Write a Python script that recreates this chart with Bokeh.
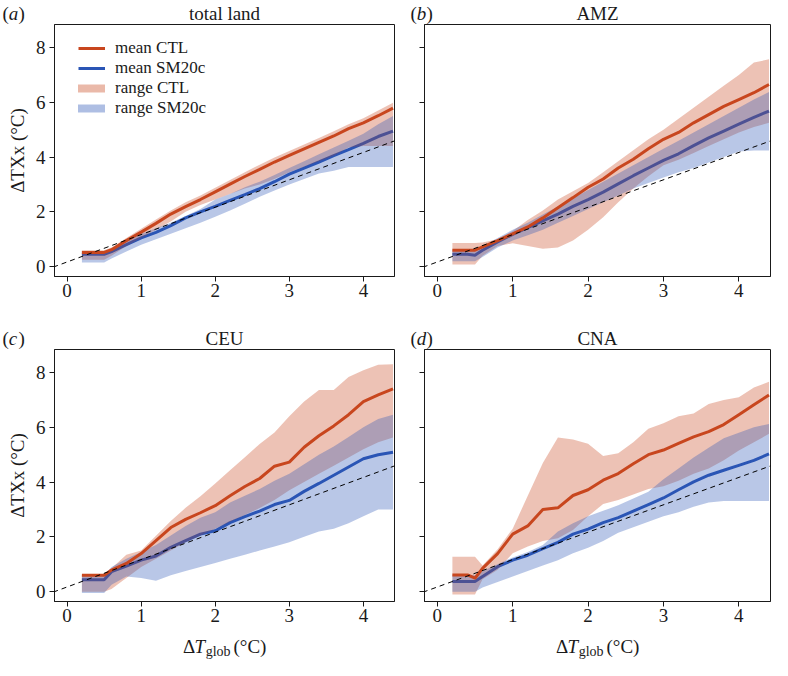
import math
from bokeh.plotting import figure
from bokeh.models import (Slope, Legend, LegendItem, Range1d, FixedTicker,
                          ColumnDataSource)
from bokeh.core.properties import value
from bokeh.layouts import column, row
from bokeh.embed import file_html
from bokeh.resources import INLINE

FONT = "Liberation Serif"
RED = "#c8461e"
BLUE = "#2a55b5"
FILL_ALPHA = 0.33
INK = "#1a1a1a"

# ---------------- data ----------------
X = [0.2, 0.4, 0.5, 0.6, 0.8, 1.0, 1.2, 1.4, 1.6, 1.8, 2.0, 2.2, 2.4, 2.6, 2.8,
     3.0, 3.2, 3.4, 3.6, 3.8, 4.0, 4.2, 4.4]

X_TICKS = [0, 1, 2, 3, 4]
Y_TICKS = [0, 2, 4, 6, 8]
X_RANGE = (-0.17, 4.42)
Y_RANGE = (-0.36, 8.84)

# reference dashed line (same in every panel)
DASH_SLOPE = 1.0
DASH_INTERCEPT = 0.17

# (a) total land
ctl_mean_a = [0.52, 0.52, 0.52, 0.62, 0.95, 1.26, 1.58, 1.92, 2.19, 2.45, 2.73, 3.01, 3.29, 3.55, 3.82, 4.06, 4.30, 4.54, 4.77, 5.04, 5.25, 5.51, 5.79]
sm_mean_a = [0.45, 0.45, 0.45, 0.55, 0.80, 1.05, 1.25, 1.50, 1.78, 2.00, 2.20, 2.42, 2.63, 2.85, 3.10, 3.38, 3.60, 3.82, 4.05, 4.27, 4.50, 4.75, 4.95]
ctl_lo_a = [0.25, 0.25, 0.25, 0.40, 0.75, 1.05, 1.35, 1.65, 2.00, 2.25, 2.45, 2.65, 2.85, 3.00, 3.20, 3.45, 3.65, 3.85, 4.05, 4.35, 4.40, 4.40, 4.40]
ctl_hi_a = [0.60, 0.60, 0.60, 0.70, 1.05, 1.38, 1.72, 2.05, 2.35, 2.60, 2.88, 3.16, 3.45, 3.72, 3.98, 4.22, 4.46, 4.70, 4.94, 5.20, 5.42, 5.70, 5.98]
sm_lo_a = [0.15, 0.15, 0.15, 0.30, 0.55, 0.80, 1.00, 1.20, 1.40, 1.60, 1.82, 2.05, 2.30, 2.55, 2.78, 3.00, 3.20, 3.40, 3.50, 3.64, 3.64, 3.64, 3.64]
sm_hi_a = [0.55, 0.55, 0.55, 0.65, 0.95, 1.20, 1.40, 1.60, 1.85, 2.10, 2.45, 2.65, 2.90, 3.10, 3.35, 3.60, 3.85, 4.10, 4.35, 4.60, 4.85, 5.20, 5.50]

# (b) AMZ
ctl_mean_b = [0.60, 0.60, 0.60, 0.72, 0.95, 1.20, 1.45, 1.78, 2.15, 2.52, 2.90, 3.20, 3.60, 3.92, 4.30, 4.65, 4.90, 5.25, 5.55, 5.85, 6.10, 6.35, 6.65]
sm_mean_b = [0.45, 0.45, 0.42, 0.60, 0.90, 1.18, 1.42, 1.67, 1.92, 2.20, 2.45, 2.72, 3.02, 3.32, 3.60, 3.88, 4.12, 4.42, 4.70, 4.95, 5.20, 5.45, 5.68]
ctl_lo_b = [0.08, 0.08, 0.08, 0.40, 0.75, 0.85, 0.75, 0.65, 0.70, 0.95, 1.35, 1.80, 2.35, 2.85, 3.30, 3.70, 3.90, 4.15, 4.40, 4.65, 4.90, 5.10, 5.25]
ctl_hi_b = [0.86, 0.86, 0.86, 0.88, 1.00, 1.30, 1.70, 2.05, 2.45, 2.75, 3.05, 3.45, 3.85, 4.25, 4.65, 5.00, 5.40, 5.80, 6.20, 6.60, 7.00, 7.45, 7.57]
sm_lo_b = [0.20, 0.20, 0.20, 0.35, 0.70, 0.95, 1.15, 1.35, 1.60, 1.85, 2.10, 2.35, 2.60, 2.85, 3.05, 3.25, 3.45, 3.60, 3.80, 4.00, 4.20, 4.24, 4.24]
sm_hi_b = [0.60, 0.60, 0.60, 0.75, 1.05, 1.35, 1.60, 1.90, 2.20, 2.50, 2.80, 3.10, 3.40, 3.70, 4.00, 4.30, 4.60, 4.90, 5.20, 5.50, 5.80, 6.10, 6.38]

# (c) CEU
ctl_mean_c = [0.60, 0.60, 0.60, 0.79, 1.03, 1.39, 1.86, 2.34, 2.64, 2.88, 3.14, 3.50, 3.84, 4.13, 4.58, 4.73, 5.27, 5.69, 6.05, 6.46, 6.94, 7.18, 7.40]
sm_mean_c = [0.43, 0.43, 0.43, 0.73, 0.93, 1.15, 1.30, 1.62, 1.86, 2.10, 2.22, 2.52, 2.74, 2.94, 3.18, 3.33, 3.66, 3.95, 4.25, 4.55, 4.85, 5.00, 5.09]
ctl_lo_c = [0.00, 0.00, 0.00, 0.10, 0.50, 0.90, 1.20, 1.50, 1.80, 2.05, 2.30, 2.55, 2.80, 3.05, 3.35, 3.70, 4.00, 4.30, 4.60, 4.90, 5.20, 5.45, 5.63]
ctl_hi_c = [0.60, 0.60, 0.60, 0.85, 1.35, 1.50, 2.04, 2.58, 3.06, 3.48, 3.95, 4.43, 4.91, 5.39, 5.81, 6.40, 6.94, 7.36, 7.36, 7.84, 8.08, 8.28, 8.30]
sm_lo_c = [-0.05, -0.05, -0.05, 0.25, 0.55, 0.50, 0.40, 0.60, 0.75, 0.90, 1.05, 1.20, 1.35, 1.50, 1.65, 1.80, 2.00, 2.20, 2.30, 2.50, 2.75, 3.00, 3.00]
sm_hi_c = [0.60, 0.60, 0.60, 0.90, 1.20, 1.45, 1.70, 2.05, 2.40, 2.70, 2.90, 3.25, 3.50, 3.75, 4.05, 4.30, 4.65, 5.00, 5.30, 5.65, 6.00, 6.30, 6.46]

# (d) CNA
ctl_mean_d = [0.61, 0.61, 0.49, 0.85, 1.39, 2.10, 2.40, 3.00, 3.06, 3.51, 3.72, 4.07, 4.31, 4.67, 5.00, 5.17, 5.41, 5.65, 5.84, 6.10, 6.46, 6.82, 7.18]
sm_mean_d = [0.37, 0.37, 0.37, 0.55, 0.91, 1.15, 1.33, 1.57, 1.80, 2.10, 2.28, 2.52, 2.70, 2.94, 3.18, 3.42, 3.72, 4.01, 4.25, 4.43, 4.61, 4.79, 5.03]
ctl_lo_d = [-0.10, -0.10, -0.10, 0.45, 0.80, 1.40, 1.65, 1.85, 1.95, 2.25, 2.75, 3.20, 3.35, 3.55, 3.75, 3.85, 4.05, 4.30, 4.50, 4.80, 5.15, 5.45, 5.76]
ctl_hi_d = [1.27, 1.27, 1.27, 0.95, 1.55, 2.30, 3.50, 4.70, 5.63, 5.55, 5.40, 4.95, 5.05, 5.45, 5.95, 6.15, 6.40, 6.50, 6.85, 7.00, 7.10, 7.45, 7.66]
sm_lo_d = [0.00, 0.00, 0.00, 0.15, 0.35, 0.55, 0.75, 0.95, 1.15, 1.40, 1.60, 1.85, 2.15, 2.35, 2.55, 2.75, 2.90, 3.10, 3.25, 3.31, 3.31, 3.31, 3.31]
sm_hi_d = [0.60, 0.60, 0.60, 0.75, 1.00, 1.25, 1.45, 1.70, 2.20, 2.50, 2.75, 2.95, 3.15, 3.40, 3.65, 4.10, 4.50, 4.90, 5.25, 5.60, 5.80, 6.00, 6.12]

PANEL_TITLES = ["total land", "AMZ", "CEU", "CNA"]
PANEL_LETTERS = ["a", "b", "c", "d"]
LEGEND_LABELS = ["mean CTL", "mean SM20c", "range CTL", "range SM20c"]
Y_LABEL = "\u0394TXx (\u00b0C)"
X_LABEL_PARTS = ["\u0394", "T", "glob", "(\u00b0C)"]

# ---------------- layout geometry ----------------
FRAME_H = 252
FRAME_W_LEFT = 340
FRAME_W_RIGHT = 346
BIG = "19px"

X_MID = (X_RANGE[0] + X_RANGE[1]) / 2
Y_MID = (Y_RANGE[0] + Y_RANGE[1]) / 2


def txt(p, text, ax, ay, dx=0, dy=0, size=BIG, style="normal", align="left",
        baseline="alphabetic", angle=0.0):
    """Text anchored at a frame corner/edge (range units) and offset in pixels."""
    p.text(x=[ax], y=[ay], text=[text], x_offset=dx, y_offset=dy,
           text_font=value(FONT), text_font_size=size, text_font_style=style,
           text_align=align, text_baseline=baseline, angle=angle,
           text_color=INK, level="overlay")


def make_panel(idx, ctl_mean, sm_mean, ctl_lo, ctl_hi, sm_lo, sm_hi):
    left_col = idx % 2 == 0
    top_row = idx < 2
    fw = FRAME_W_LEFT if left_col else FRAME_W_RIGHT
    bl = 54 if left_col else 20
    br = 10 if left_col else 2
    bt = 24 if top_row else 35
    bb = 38 if top_row else 59
    p = figure(width=bl + fw + br, height=bt + FRAME_H + bb,
               x_range=Range1d(*X_RANGE), y_range=Range1d(*Y_RANGE),
               output_backend="svg", toolbar_location=None,
               min_border_left=bl, min_border_right=br,
               min_border_top=bt, min_border_bottom=bb)
    p.grid.visible = False
    p.outline_line_color = INK
    p.outline_line_width = 1
    p.background_fill_color = "white"
    p.border_fill_color = "white"
    p.xaxis.ticker = FixedTicker(ticks=X_TICKS)
    p.yaxis.ticker = FixedTicker(ticks=Y_TICKS)
    for ax in p.xaxis + p.yaxis:
        ax.axis_line_color = INK
        ax.major_tick_line_color = INK
        ax.major_tick_out = 5
        ax.major_tick_in = 0
        ax.minor_tick_line_color = None
        ax.major_label_text_font = FONT
        ax.major_label_text_font_size = BIG
        ax.major_label_text_color = INK
    p.xaxis.major_label_standoff = 2
    p.yaxis.major_label_standoff = 4
    if not left_col:
        p.yaxis.major_label_overrides = {t: "" for t in Y_TICKS}

    src = ColumnDataSource(dict(x=X, ctl_mean=ctl_mean, sm_mean=sm_mean,
                                ctl_lo=ctl_lo, ctl_hi=ctl_hi, sm_lo=sm_lo, sm_hi=sm_hi))
    r_sm_line = p.line("x", "sm_mean", source=src, line_color=BLUE, line_width=3)
    p.varea(x="x", y1="ctl_lo", y2="ctl_hi", source=src, fill_color=RED, fill_alpha=FILL_ALPHA)
    p.varea(x="x", y1="sm_lo", y2="sm_hi", source=src, fill_color=BLUE, fill_alpha=FILL_ALPHA)
    r_ctl_line = p.line("x", "ctl_mean", source=src, line_color=RED, line_width=3)
    p.add_layout(Slope(gradient=DASH_SLOPE, y_intercept=DASH_INTERCEPT,
                       line_color="black", line_width=1, line_dash="5 4"))

    # panel title and letter (above the frame)
    y_top = Y_RANGE[1]
    x_left = X_RANGE[0]
    txt(p, PANEL_TITLES[idx], X_MID, y_top, dy=-11, align="center")
    lx = -52 if left_col else -14
    txt(p, "(", x_left, y_top, dx=lx, dy=-11)
    txt(p, PANEL_LETTERS[idx], x_left, y_top, dx=lx + 6.3, dy=-11, style="italic")
    txt(p, ")", x_left, y_top, dx=lx + 16, dy=-11)

    if left_col:
        txt(p, Y_LABEL, x_left, Y_MID, dx=-37, align="center", baseline="middle",
            angle=math.pi / 2)
    if not top_row:
        yb = Y_RANGE[0]
        txt(p, X_LABEL_PARTS[0], X_MID, yb, dx=-41.5, dy=45)
        txt(p, X_LABEL_PARTS[1], X_MID, yb, dx=-30, dy=45, style="italic")
        txt(p, X_LABEL_PARTS[2], X_MID, yb, dx=-18.8, dy=50, size="14px")
        txt(p, X_LABEL_PARTS[3], X_MID, yb, dx=9, dy=45)

    if idx == 0:
        leg_ctl = p.line("x", "ctl_mean", source=src, line_color=RED, line_width=8,
                         line_alpha=FILL_ALPHA + 0.05, line_cap="round", visible=False)
        leg_sm = p.line("x", "sm_mean", source=src, line_color=BLUE, line_width=8,
                        line_alpha=FILL_ALPHA + 0.05, line_cap="round", visible=False)
        legend = Legend(items=[LegendItem(label=LEGEND_LABELS[0], renderers=[r_ctl_line]),
                               LegendItem(label=LEGEND_LABELS[1], renderers=[r_sm_line]),
                               LegendItem(label=LEGEND_LABELS[2], renderers=[leg_ctl]),
                               LegendItem(label=LEGEND_LABELS[3], renderers=[leg_sm])],
                        location=(24, FRAME_H - 22 - 72), padding=0, margin=0, spacing=0,
                        label_height=18, glyph_height=18, glyph_width=27,
                        label_standoff=10, label_text_font=FONT,
                        label_text_font_size="17px", label_text_line_height=1.0,
                        label_text_color=INK, inactive_fill_alpha=0,
                        border_line_color=None, background_fill_alpha=0)
        p.add_layout(legend)
    return p


pa = make_panel(0, ctl_mean_a, sm_mean_a, ctl_lo_a, ctl_hi_a, sm_lo_a, sm_hi_a)
pb = make_panel(1, ctl_mean_b, sm_mean_b, ctl_lo_b, ctl_hi_b, sm_lo_b, sm_hi_b)
pc = make_panel(2, ctl_mean_c, sm_mean_c, ctl_lo_c, ctl_hi_c, sm_lo_c, sm_hi_c)
pd = make_panel(3, ctl_mean_d, sm_mean_d, ctl_lo_d, ctl_hi_d, sm_lo_d, sm_hi_d)

layout = column(row(pa, pb), row(pc, pd))
open("out.html", "w").write(file_html(layout, INLINE))
